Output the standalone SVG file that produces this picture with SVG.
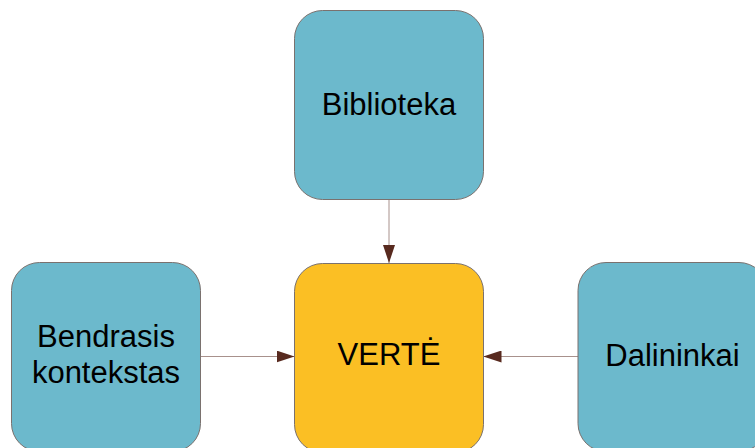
<svg xmlns="http://www.w3.org/2000/svg" width="755" height="448" viewBox="0 0 755 448">
<style>
.node{stroke:#7a716e;stroke-width:1}
.blue{fill:#6cb9cc}
.yellow{fill:#fbbf24}
.lbl{font-family:"Liberation Sans",Arial,sans-serif;font-size:31px;fill:#000;text-anchor:middle}
.conn{stroke:#a8918c;stroke-width:1;fill:none}
</style>
<defs>
<marker id="arr" markerWidth="18" markerHeight="12" refX="18" refY="6" orient="auto" markerUnits="userSpaceOnUse">
<path d="M0,0 L18,6 L0,12 Z" fill="#582a1f"/>
</marker>
</defs>
<rect width="755" height="448" fill="#fff"/>
<g id="connectors">
<line class="conn" x1="389" y1="199" x2="389" y2="263" marker-end="url(#arr)"/>
<line class="conn" x1="200" y1="356.5" x2="294.5" y2="356.5" marker-end="url(#arr)"/>
<line class="conn" x1="578" y1="356.5" x2="483.5" y2="356.5" marker-end="url(#arr)"/>
</g>
<g id="biblioteka">
<rect class="node blue" x="294.5" y="10.5" width="189" height="189" rx="28" ry="28"/>
<text class="lbl" x="389" y="114.5">Biblioteka</text>
</g>
<g id="verte">
<rect class="node yellow" x="294.5" y="263.5" width="189" height="189" rx="28" ry="28"/>
<text class="lbl" x="389" y="364.5">VERTĖ</text>
</g>
<g id="bendrasis">
<rect class="node blue" x="11.5" y="262.5" width="189" height="189" rx="28" ry="28"/>
<text class="lbl" x="106" y="346.5">Bendrasis</text>
<text class="lbl" x="106" y="383">kontekstas</text>
</g>
<g id="dalininkai">
<rect class="node blue" x="578" y="262.5" width="189" height="189" rx="28" ry="28"/>
<text class="lbl" x="672.5" y="366">Dalininkai</text>
</g>
</svg>
